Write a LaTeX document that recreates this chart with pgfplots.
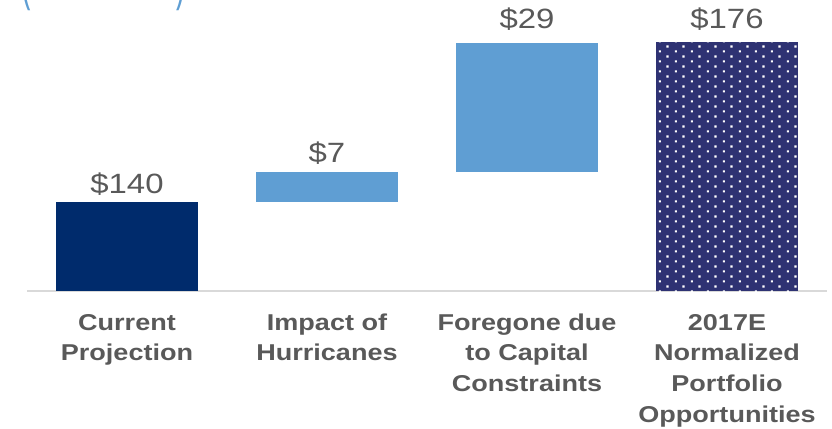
\documentclass[border=0pt]{standalone}
\usepackage{fontspec}
\setmainfont{Liberation Sans}
\usepackage{pgfplots}
\pgfplotsset{compat=1.18}
\usetikzlibrary{patterns}
\definecolor{txtgray}{HTML}{595959}
\definecolor{darkblue}{HTML}{002B6C}
\definecolor{lightblue}{HTML}{5F9ED3}
\definecolor{patblue}{HTML}{2E3273}
\definecolor{axgray}{HTML}{D9D9D9}
\pgfdeclarepatternformonly{sdots}{\pgfpointorigin}{\pgfpoint{16bp}{10.4bp}}{\pgfpoint{16bp}{10.4bp}}{%
  \pgfpathrectangle{\pgfpoint{3bp}{1.6bp}}{\pgfpoint{2.2bp}{2.2bp}}%
  \pgfpathrectangle{\pgfpoint{11bp}{6.8bp}}{\pgfpoint{2.2bp}{2.2bp}}%
  \pgfusepath{fill}}
\newcommand\lbl[1]{\scalebox{1.18}[1]{\fontsize{23}{31}\selectfont\bfseries\begin{tabular}[t]{@{}c@{}}#1\end{tabular}}}
\newcommand\val[1]{\scalebox{1.18}[1]{\fontsize{28}{32}\selectfont #1}}
\pgfplotstableread{
x base first hurr fore total
0 0   89 0  0   0
1 89  0  30.5 0 0
2 119.5 0 0 128.8 0
3 0   0  0  0  249
}\wfdata
\begin{document}
\begin{tikzpicture}
\begin{axis}[
  at={(0,0)}, anchor=south west,
  width=800bp, height=291bp, scale only axis,
  xmin=-0.5, xmax=3.5, ymin=0, ymax=291,
  ybar stacked, bar width=0.71,
  axis x line*=bottom, axis y line=none,
  x axis line style={draw=axgray, line width=1.5bp, -},
  xtick={0,1,2,3}, major tick length=0pt,
  xticklabels={{\lbl{Current\\Projection}},{\lbl{Impact of\\Hurricanes}},{\lbl{Foregone due\\to Capital\\Constraints}},{\lbl{2017E\\Normalized\\Portfolio\\Opportunities}}},
  xticklabel style={anchor=base, inner sep=0pt, yshift=-39bp, text=txtgray},
  clip=false,
]
\addplot[draw=none, fill=none] table[x=x, y=base] {\wfdata};
\addplot[draw=none, fill=darkblue] table[x=x, y=first] {\wfdata};
\addplot[draw=none, fill=lightblue] table[x=x, y=hurr] {\wfdata};
\addplot[draw=none, fill=lightblue] table[x=x, y=fore] {\wfdata};
\addplot[draw=none, fill=patblue, postaction={pattern=sdots, pattern color=white}] table[x=x, y=total] {\wfdata};
\node[anchor=base, inner sep=0pt, text=txtgray] at (axis cs:0,98) {\val{\$140}};
\node[anchor=base, inner sep=0pt, text=txtgray] at (axis cs:1,129) {\val{\$7}};
\node[anchor=base, inner sep=0pt, text=txtgray] at (axis cs:2,262) {\val{\$29}};
\node[anchor=base, inner sep=0pt, text=txtgray] at (axis cs:3,262) {\val{\$176}};
\end{axis}
\node[anchor=base west, inner sep=0pt, text=lightblue] at (-6bp,292.5bp) {\scalebox{1.04}[1]{\fontsize{27}{30}\selectfont \scalebox{1}[2.2]{(}\$ in millions\scalebox{1}[2.2]{)}}};
\pgfresetboundingbox
\path (-27bp,-138bp) rectangle (805bp,291bp);
\end{tikzpicture}
\end{document}
